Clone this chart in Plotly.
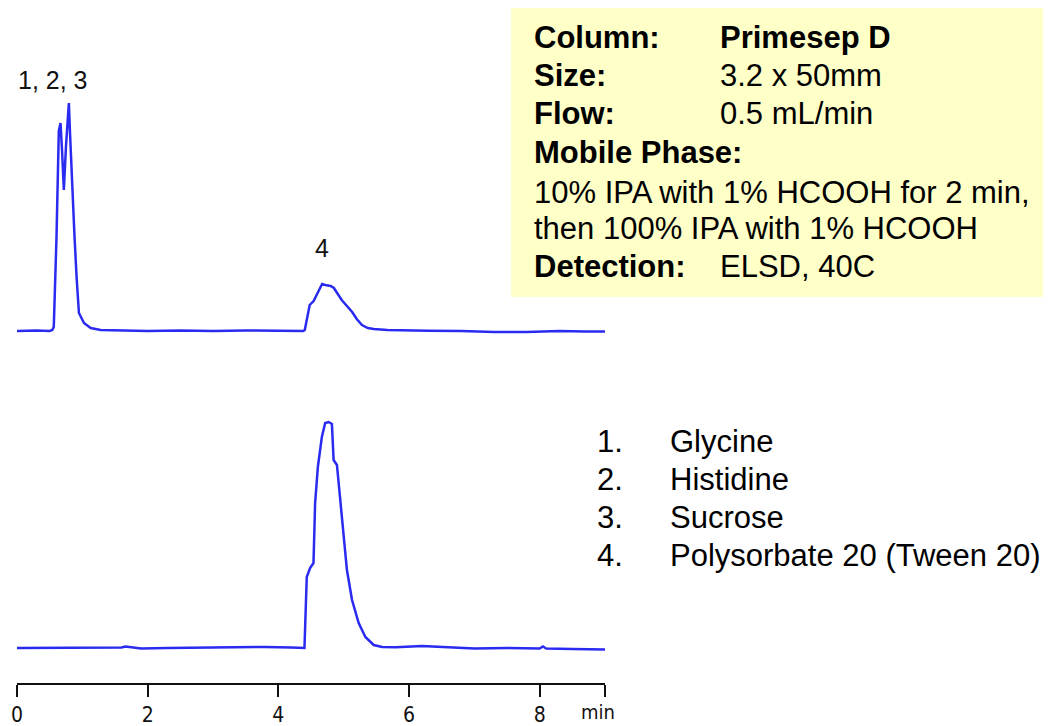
import plotly.graph_objects as go

# ---------------- data ----------------
top_time = [0.00, 0.30, 0.50, 0.54, 0.563, 0.605, 0.640, 0.666, 0.690, 0.717, 0.750, 0.780,
            0.794, 0.810, 0.846, 0.880, 0.912, 0.948, 1.025, 1.128, 1.28, 1.6, 2.0, 2.5, 3.0,
            3.5, 4.0, 4.38, 4.405, 4.45, 4.48, 4.54, 4.60, 4.67, 4.72, 4.80, 4.85, 4.91, 4.97,
            5.05, 5.13, 5.20, 5.28, 5.37, 5.46, 5.67, 5.90, 6.3, 6.8, 7.3, 7.8, 8.3, 8.7, 9.0]
top_signal = [0, 0.5, 0, 1, 4, 95, 200, 208, 180, 141, 185, 222,
              228, 200, 138, 95, 54, 18, 8, 3, 1, 0.5, 0, 0.5, 0,
              0.5, 0, 0, 1, 18, 26, 30, 38, 47, 46, 45, 43, 37, 31,
              25, 19, 12, 6, 3, 2, 1, 0.5, 0.3, 0, -1, -1, 0, -0.5, -0.5]

bot_time = [0.0, 0.5, 1.0, 1.6, 1.66, 1.75, 1.9, 2.3, 2.8, 3.3, 3.8, 4.2, 4.40, 4.435,
            4.486, 4.538, 4.563, 4.605, 4.666, 4.717, 4.77, 4.82, 4.846, 4.897, 4.974,
            5.05, 5.128, 5.23, 5.332, 5.46, 5.589, 5.8, 6.2, 6.6, 7.0, 7.5, 8.0, 8.05,
            8.1, 8.5, 9.0]
bot_signal = [0, 0, 0.3, 0.5, 1.5, 0.5, -0.5, 0, 0.5, 0.7, 1, 0.5, 0, 71,
              80, 85, 145, 181, 211, 225, 226, 224, 188, 183, 128,
              78, 48, 25, 11, 3, 1, 0.7, 2, 1, -0.5, 0, -0.5, 1.5,
              -0.5, -1, -1.5]

tick_vals = [0, 2, 4, 6, 8, 9]
tick_text = ["0", "2", "4", "6", "8", ""]

peak_labels_top = [("1, 2, 3", 0.55, 251), ("4", 4.67, 83)]
peak_labels_bot = [("4", 4.79, 258)]

info_labels = ["Column:", "Size:", "Flow:", "Mobile Phase:", "", "", "Detection:"]
info_values = ["Primesep D", "3.2 x 50mm", "0.5 mL/min", "", "", "", "ELSD, 40C"]
info_full = ["", "", "", "", "10% IPA with 1% HCOOH for 2 min,", "then 100% IPA with 1% HCOOH", ""]

legend_nums = ["1.", "2.", "3.", "4."]
legend_names = ["Glycine", "Histidine", "Sucrose", "Polysorbate 20 (Tween 20)"]

# ---------------- layout helpers ----------------
# the page body has an 8 px margin, so the figure is drawn 8 px lower and to the right
OFF = 8
W, H = 1051 - OFF, 726 - OFF
ML, MR, MT, MB = 17 - OFF, 446, 0, 43
PW, PH = W - ML - MR, H - MT - MB
X0 = ML + OFF           # screen x of plot-area left edge
Y0 = H - MB + OFF       # screen y of plot-area bottom edge


def px(x):
    return (x - X0) / PW


def py(y):
    return (Y0 - y) / PH


BLUE = "#2a2af0"
TXT = "Liberation Sans, Arial, sans-serif"
NARROW = "Liberation Sans Narrow, DejaVu Sans Condensed, sans-serif"
INFO_SIZE = 31

fig = go.Figure()
fig.add_trace(go.Scatter(x=bot_time, y=bot_signal, mode="lines", xaxis="x", yaxis="y",
                         line=dict(color=BLUE, width=2.5), hoverinfo="skip", showlegend=False))
fig.add_trace(go.Scatter(x=top_time, y=top_signal, mode="lines", xaxis="x", yaxis="y2",
                         line=dict(color=BLUE, width=2.5), hoverinfo="skip", showlegend=False))

ann = []
for t, x, y in peak_labels_top:
    ann.append(dict(text=t, x=x, y=y, xref="x", yref="y2", showarrow=False,
                    yanchor="middle", font=dict(family=TXT, size=25, color="#111")))
for t, x, y in peak_labels_bot:
    ann.append(dict(text=t, x=x, y=y, xref="x", yref="y", showarrow=False,
                    yanchor="middle", font=dict(family=TXT, size=25, color="#111")))

ann.append(dict(text="min", x=8.9, y=py(712), xref="x", yref="paper", showarrow=False,
                yanchor="middle", font=dict(family=NARROW, size=20, color="#111")))

line_y = [38, 75, 113, 153, 192, 228, 267]
for i, yc in enumerate(line_y):
    if info_labels[i]:
        ann.append(dict(text="<b>" + info_labels[i] + "</b>", x=px(532), y=py(yc),
                        xref="paper", yref="paper", xanchor="left", yanchor="middle",
                        showarrow=False, font=dict(family=TXT, size=INFO_SIZE, color="#000")))
    if info_values[i]:
        v = info_values[i]
        if i == 0:
            v = "<b>" + v + "</b>"
        ann.append(dict(text=v, x=px(718), y=py(yc), xref="paper", yref="paper",
                        xanchor="left", yanchor="middle", showarrow=False,
                        font=dict(family=TXT, size=INFO_SIZE, color="#000")))
    if info_full[i]:
        ann.append(dict(text=info_full[i], x=px(532), y=py(yc), xref="paper", yref="paper",
                        xanchor="left", yanchor="middle", showarrow=False,
                        font=dict(family=TXT, size=INFO_SIZE, color="#000")))

leg_y = [441, 479, 517, 555]
for n, name, yc in zip(legend_nums, legend_names, leg_y):
    ann.append(dict(text=n, x=px(595), y=py(yc), xref="paper", yref="paper",
                    xanchor="left", yanchor="middle", showarrow=False,
                    font=dict(family=TXT, size=INFO_SIZE, color="#000")))
    ann.append(dict(text=name, x=px(668), y=py(yc), xref="paper", yref="paper",
                    xanchor="left", yanchor="middle", showarrow=False,
                    font=dict(family=TXT, size=INFO_SIZE, color="#000")))

fig.update_layout(
    width=W, height=H,
    margin=dict(l=ML, r=MR, t=MT, b=MB, autoexpand=False),
    paper_bgcolor="white", plot_bgcolor="white",
    showlegend=False,
    xaxis=dict(range=[0, 9], domain=[0, 1], anchor="y", showgrid=False, zeroline=False,
               automargin=False,
               showline=True, linecolor="#111", linewidth=2,
               ticks="outside", ticklen=12, tickwidth=2, tickcolor="#111",
               tickvals=tick_vals, ticktext=tick_text,
               tickfont=dict(family=NARROW, size=21, color="#111")),
    yaxis=dict(domain=[0, py(400)], range=[-35, 248], visible=False, anchor="x",
               automargin=False),
    yaxis2=dict(domain=[py(350), py(80)], range=[-19, 251], visible=False, anchor="x",
                automargin=False),
    shapes=[dict(type="rect", xref="paper", yref="paper", x0=px(511), x1=px(1051),
                 y0=py(297), y1=py(8), fillcolor="#ffffc8", line=dict(width=0), layer="below")],
    annotations=ann,
)

fig.write_html("out.html")
